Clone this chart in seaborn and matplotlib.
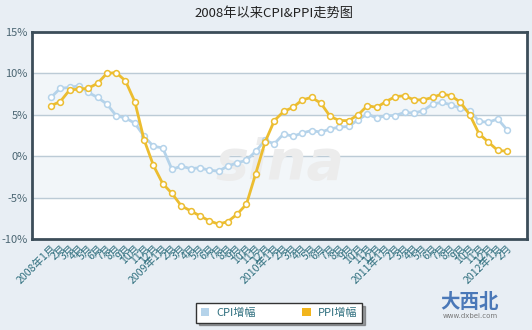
import matplotlib
matplotlib.use("Agg")
import matplotlib.pyplot as plt
from matplotlib.patches import Patch
import seaborn as sns
import pandas as pd

# ---- data ----
years = [2008, 2009, 2010, 2011, 2012]
month_labels = []
for y in years:
    n = 2 if y == 2012 else 12
    for m in range(1, n + 1):
        month_labels.append(f"{y}年{m}月" if m == 1 else f"{m}月")

cpi = [7.1, 8.2, 8.3, 8.5, 7.7, 7.1, 6.3, 4.9, 4.6, 4.0, 2.4, 1.2,
       1.0, -1.6, -1.2, -1.5, -1.4, -1.7, -1.8, -1.2, -0.8, -0.5, 0.6, 1.9,
       1.5, 2.7, 2.4, 2.8, 3.1, 2.9, 3.3, 3.5, 3.6, 4.4, 5.1, 4.6,
       4.9, 4.9, 5.3, 5.2, 5.5, 6.3, 6.5, 6.2, 5.8, 5.5, 4.2, 4.1,
       4.5, 3.2]
ppi = [6.1, 6.6, 8.0, 8.1, 8.2, 8.8, 10.0, 10.1, 9.1, 6.6, 2.0, -1.1,
       -3.3, -4.5, -6.0, -6.6, -7.2, -7.8, -8.2, -7.9, -7.0, -5.8, -2.1, 1.7,
       4.3, 5.4, 5.9, 6.8, 7.1, 6.4, 4.8, 4.3, 4.3, 5.0, 6.1, 5.9,
       6.6, 7.2, 7.3, 6.8, 6.8, 7.1, 7.5, 7.3, 6.5, 5.0, 2.7, 1.7,
       0.7, 0.6]
series_names = ["CPI增幅", "PPI增幅"]
y_ticks = [15, 10, 5, 0, -5, -10]
title = "2008年以来CPI&PPI走势图"

df = pd.DataFrame({"idx": list(range(len(month_labels))), "CPI": cpi, "PPI": ppi})

sns.set_style("white")
plt.rcParams["font.family"] = ["Noto Sans CJK SC", "DejaVu Sans"]

BG = "#e8eef4"
CPI_C = "#b5d3ea"
PPI_C = "#ecbd30"
TEAL = "#2f6f7e"

fig = plt.figure(figsize=(5.32, 3.30), dpi=100, facecolor=BG)
ax = fig.add_axes([32 / 532, 1 - 239 / 330, (527 - 32) / 532, (239 - 32) / 330])
ax.set_facecolor("white")

# bands and grid
ax.axhspan(5, 10, color="#f2f6f9", zorder=0)
ax.axhspan(-5, 0, color="#f2f6f9", zorder=0)
for v in [10, 5, 0, -5]:
    ax.axhline(v, color="#bccbd6", lw=1, zorder=1)

# watermark
ax.text(0.5, 0.36, "sina", transform=ax.transAxes, fontsize=40, fontstyle="italic",
        fontweight="bold", color="#ececec", ha="center", va="center", zorder=1,
        family="DejaVu Sans")

sns.lineplot(data=df, x="idx", y="CPI", ax=ax, color=CPI_C, lw=2.0, marker="o",
             markersize=4.2, markerfacecolor="white", markeredgecolor=CPI_C,
             markeredgewidth=1.1, zorder=3)
sns.lineplot(data=df, x="idx", y="PPI", ax=ax, color=PPI_C, lw=2.0, marker="o",
             markersize=4.2, markerfacecolor="white", markeredgecolor=PPI_C,
             markeredgewidth=1.1, zorder=4)

n = len(month_labels)
step = (507 - 51) / (n - 1)
ax.set_xlim(-(51 - 32) / step, (n - 1) + (527 - 507) / step)
ax.set_ylim(-10, 15)
ax.set_yticks(y_ticks)
ax.set_yticklabels([f"{t}%" for t in y_ticks], color="#4a6572", fontsize=8)
ax.set_xticks(range(n))
ax.set_xticklabels(month_labels, rotation=45, ha="right", va="top",
                   rotation_mode="anchor", fontsize=7.6, color=TEAL)
ax.tick_params(axis="both", length=0)
ax.tick_params(axis="x", pad=3)
ax.tick_params(axis="y", pad=3)
ax.set_xlabel("")
ax.set_ylabel("")
for s in ax.spines.values():
    s.set_color("#3c4d59")
    s.set_linewidth(2)
    s.set_visible(True)

fig.text(274 / 532, 1 - 13 / 330, title, ha="center", va="center", fontsize=9.5, color="#222222")

handles = [Patch(facecolor=CPI_C, edgecolor="none"), Patch(facecolor="#f2b51c", edgecolor="none")]
leg = fig.legend(handles, series_names, loc="center", bbox_to_anchor=(279 / 532, 1 - 313 / 330),
                 ncol=2, frameon=True, fancybox=False, shadow=True, fontsize=8,
                 handlelength=0.8, handleheight=0.8, columnspacing=4.2, handletextpad=0.6,
                 borderpad=0.4, labelcolor=TEAL)
leg.get_frame().set_edgecolor("#333333")
leg.get_frame().set_linewidth(1)

fig.text(470 / 532, 1 - 302 / 330, "大西北", ha="center", va="center", fontsize=14,
         fontweight="bold", color="#4a78b8")
fig.text(470 / 532, 1 - 316 / 330, "www.dxbei.com", ha="center", va="center", fontsize=5,
         color="#777777", family="DejaVu Sans")

fig.savefig("out.png", dpi=100, facecolor=BG)
